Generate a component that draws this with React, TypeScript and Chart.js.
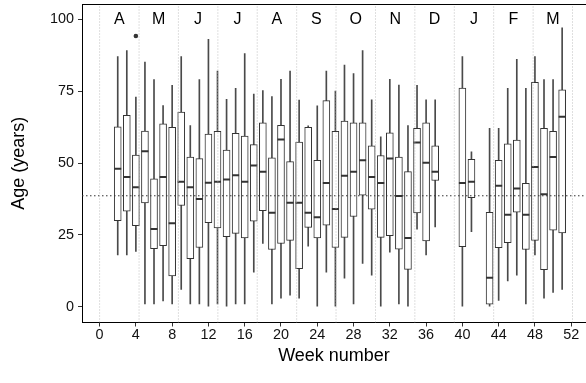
import { useEffect, useRef } from 'react';
import { Chart, registerables } from 'chart.js';

Chart.register(...registerables);

// ---- data ----
const weeks = [2, 3, 4, 5, 6, 7, 8, 9, 10, 11, 12, 13, 14, 15, 16, 17, 18, 19, 20, 21, 22, 23, 24, 25, 26, 27, 28, 29, 30, 31, 32, 33, 34, 35, 36, 37, 40, 41, 43, 44, 45, 46, 47, 48, 49, 50, 51];
const lowerQuartile = [29.9, 33.2, 28.2, 36.1, 20.2, 21.2, 10.7, 35.2, 16.7, 20.6, 29.2, 27.4, 24.4, 25.5, 23.9, 29.8, 33.4, 19.9, 22.0, 23.1, 13.2, 27.6, 23.9, 28.4, 20.6, 24.1, 31.4, 38.8, 33.9, 24.1, 24.7, 20.0, 13.0, 32.6, 22.9, 43.9, 20.9, 37.9, 0.9, 20.5, 22.3, 32.9, 19.9, 23.1, 12.9, 26.6, 25.7];
const medianAge = [48.0, 45.1, 41.6, 54.1, 27.0, 45.1, 29.0, 43.5, 41.6, 37.5, 43.1, 43.5, 44.3, 45.7, 43.5, 49.1, 47.0, 32.7, 58.2, 36.2, 36.2, 32.7, 31.1, 43.0, 34.0, 45.6, 47.0, 51.0, 45.1, 43.0, 51.6, 38.5, 23.9, 57.1, 50.1, 47.0, 43.0, 43.5, 10.1, 42.1, 32.0, 41.1, 32.0, 48.6, 39.1, 52.1, 66.1];
const upperQuartile = [62.6, 66.6, 52.8, 61.1, 44.5, 63.6, 62.4, 67.7, 52.1, 51.5, 60.1, 61.0, 54.5, 60.3, 59.4, 56.4, 64.0, 51.8, 63.1, 50.5, 57.3, 62.4, 50.9, 71.7, 61.0, 64.6, 64.0, 64.0, 56.0, 52.6, 60.5, 52.1, 47.0, 62.1, 64.0, 56.0, 76.1, 51.3, 32.8, 50.9, 56.7, 58.0, 42.9, 78.1, 62.1, 61.0, 75.5];
const whiskerLow = [18.0, 18.0, 19.2, 1.0, 1.0, 2.0, 1.0, 6.0, 1.0, 1.0, 0, 1.0, 0, 1.0, 1.0, 12.0, 22.0, 1.0, 3.0, 4.0, 3.0, 21.1, 0, 12.0, 0, 9.9, 1.0, 15.1, 11.0, 0, 19.0, 1.0, 0, 27.0, 18.0, 27.8, 0, 26.1, 0, 2.2, 9.0, 11.0, 1.0, 18.0, 3.0, 5.0, 6.0];
const whiskerHigh = [87.0, 89.1, 72.9, 85.1, 79.0, 70.0, 77.0, 87.0, 63.0, 79.0, 93.0, 82.0, 72.2, 76.0, 88.1, 74.0, 75.2, 73.1, 79.1, 82.0, 71.9, 62.9, 69.9, 82.0, 75.0, 84.1, 81.1, 89.1, 72.0, 59.1, 79.1, 77.1, 63.0, 77.0, 72.0, 72.0, 87.0, 53.9, 62.1, 62.1, 76.0, 86.1, 76.0, 87.0, 79.0, 79.0, 97.0];
const outlierWeeks = [4];
const outlierAges = [94.2];

const monthLabels = ['A', 'M', 'J', 'J', 'A', 'S', 'O', 'N', 'D', 'J', 'F', 'M'];
const monthCentres = [2.17, 6.52, 10.86, 15.21, 19.55, 23.9, 28.24, 32.59, 36.93, 41.28, 45.62, 49.97];
const monthBoundaries = [0, 4.35, 8.69, 13.04, 17.38, 21.73, 26.07, 30.42, 34.76, 39.11, 43.45, 47.8, 52.14];
const monthLabelAge = 100;
const referenceAge = 38.6;

const xTicks = [0, 4, 8, 12, 16, 20, 24, 28, 32, 36, 40, 44, 48, 52];
const yTicks = [0, 25, 50, 75, 100];

const X_MIN = -1.94;
const X_MAX = 53.63;
const Y_MIN = -5.5;
const Y_MAX = 105.33;

const FONT = 'Liberation Sans, Arial, Helvetica, sans-serif';

export default function App() {
  const ref = useRef<HTMLCanvasElement | null>(null);

  useEffect(() => {
    if (!ref.current) return;
    Chart.defaults.font.family = FONT;

    const monthLinePoints: any[] = [];
    monthBoundaries.forEach((b) => {
      monthLinePoints.push({ x: b, y: Y_MIN }, { x: b, y: Y_MAX }, { x: b, y: null });
    });

    const monthTextPlugin = {
      id: 'monthText',
      afterDatasetsDraw(chart: any) {
        const { ctx, scales } = chart;
        ctx.save();
        ctx.font = `16px ${FONT}`;
        ctx.fillStyle = '#000';
        ctx.textAlign = 'center';
        ctx.textBaseline = 'middle';
        monthLabels.forEach((m, i) => {
          ctx.fillText(m, scales.x.getPixelForValue(monthCentres[i]), scales.y.getPixelForValue(monthLabelAge));
        });
        ctx.restore();
      },
    };

    const topBorderPlugin = {
      id: 'topBorder',
      afterDraw(chart: any) {
        const { ctx, chartArea } = chart;
        ctx.save();
        ctx.strokeStyle = '#000';
        ctx.lineWidth = 1;
        ctx.beginPath();
        ctx.moveTo(chartArea.left, Math.round(chartArea.top) + 0.5);
        ctx.lineTo(chartArea.right, Math.round(chartArea.top) + 0.5);
        ctx.stroke();
        ctx.restore();
      },
    };

    const chart = new Chart(ref.current, {
      type: 'bar',
      data: {
        datasets: [
          {
            type: 'line',
            data: monthLinePoints,
            borderColor: '#bfbfbf',
            borderWidth: 1,
            borderDash: [1, 2],
            pointRadius: 0,
            spanGaps: false,
            order: 0,
          } as any,
          {
            type: 'line',
            data: [{ x: X_MIN, y: referenceAge }, { x: X_MAX, y: referenceAge }],
            borderColor: '#333',
            borderWidth: 1,
            borderDash: [1.5, 2.5],
            pointRadius: 0,
            order: 0,
          } as any,
          {
            type: 'line',
            data: weeks.map((w, i) => ({ x: w, y: medianAge[i] })),
            showLine: false,
            pointStyle: 'line',
            pointRadius: 3.5,
            pointBorderWidth: 2,
            pointBorderColor: '#333',
            order: 1,
          } as any,
          {
            type: 'line',
            data: outlierWeeks.map((w, i) => ({ x: w, y: outlierAges[i] })),
            showLine: false,
            pointStyle: 'circle',
            pointRadius: 2.3,
            pointBackgroundColor: '#333',
            pointBorderWidth: 0,
            order: 1,
          } as any,
          {
            type: 'bar',
            data: weeks.map((w, i) => ({ x: w, y: [lowerQuartile[i], upperQuartile[i]] })),
            backgroundColor: '#ffffff',
            borderColor: '#333',
            borderWidth: 1,
            borderSkipped: false,
            barThickness: 7,
            grouped: false,
            order: 2,
          } as any,
          {
            type: 'bar',
            data: weeks.map((w, i) => ({ x: w, y: [whiskerLow[i], whiskerHigh[i]] })),
            backgroundColor: '#4a4a4a',
            borderWidth: 0,
            barThickness: 1,
            grouped: false,
            order: 3,
          } as any,
        ],
      },
      options: {
        animation: false,
        responsive: false,
        layout: { autoPadding: false, padding: { top: 4, right: 0, left: 0, bottom: 0 } },
        plugins: { legend: { display: false }, tooltip: { enabled: false } },
        scales: {
          x: {
            type: 'linear',
            min: X_MIN,
            max: X_MAX,
            offset: false,
            afterBuildTicks: (s: any) => {
              s.ticks = xTicks.map((v) => ({ value: v }));
            },
            afterFit: (s: any) => {
              s.height = 60.5;
              s.paddingLeft = 0;
              s.paddingRight = 0;
            },
            grid: { drawOnChartArea: false, drawTicks: true, tickLength: 4, color: '#333', offset: false },
            border: { display: true, color: '#000', width: 1 },
            ticks: { font: { size: 14.4 }, color: '#111', padding: 0, autoSkip: false, maxRotation: 0 },
            title: { display: true, text: 'Week number', font: { size: 18 }, color: '#000', padding: { top: 0, bottom: 16 } },
          },
          y: {
            type: 'linear',
            min: Y_MIN,
            max: Y_MAX,
            afterBuildTicks: (s: any) => {
              s.ticks = yTicks.map((v) => ({ value: v }));
            },
            afterFit: (s: any) => {
              s.width = 82;
              s.paddingTop = 0;
              s.paddingBottom = 0;
            },
            grid: { drawOnChartArea: false, drawTicks: true, tickLength: 4, color: '#333' },
            border: { display: true, color: '#000', width: 1 },
            ticks: { font: { size: 14.4 }, color: '#111', padding: 4 },
            title: { display: true, text: 'Age (years)', font: { size: 18 }, color: '#000', padding: { top: 8.7, bottom: 0 } },
          },
        },
      } as any,
      plugins: [monthTextPlugin, topBorderPlugin],
    });

    return () => chart.destroy();
  }, []);

  return (
    <div style={{ position: 'absolute', left: 0, top: 0, width: 586, height: 383 }}>
      <canvas ref={ref} width={586} height={383} style={{ width: 586, height: 383 }} />
    </div>
  );
}
